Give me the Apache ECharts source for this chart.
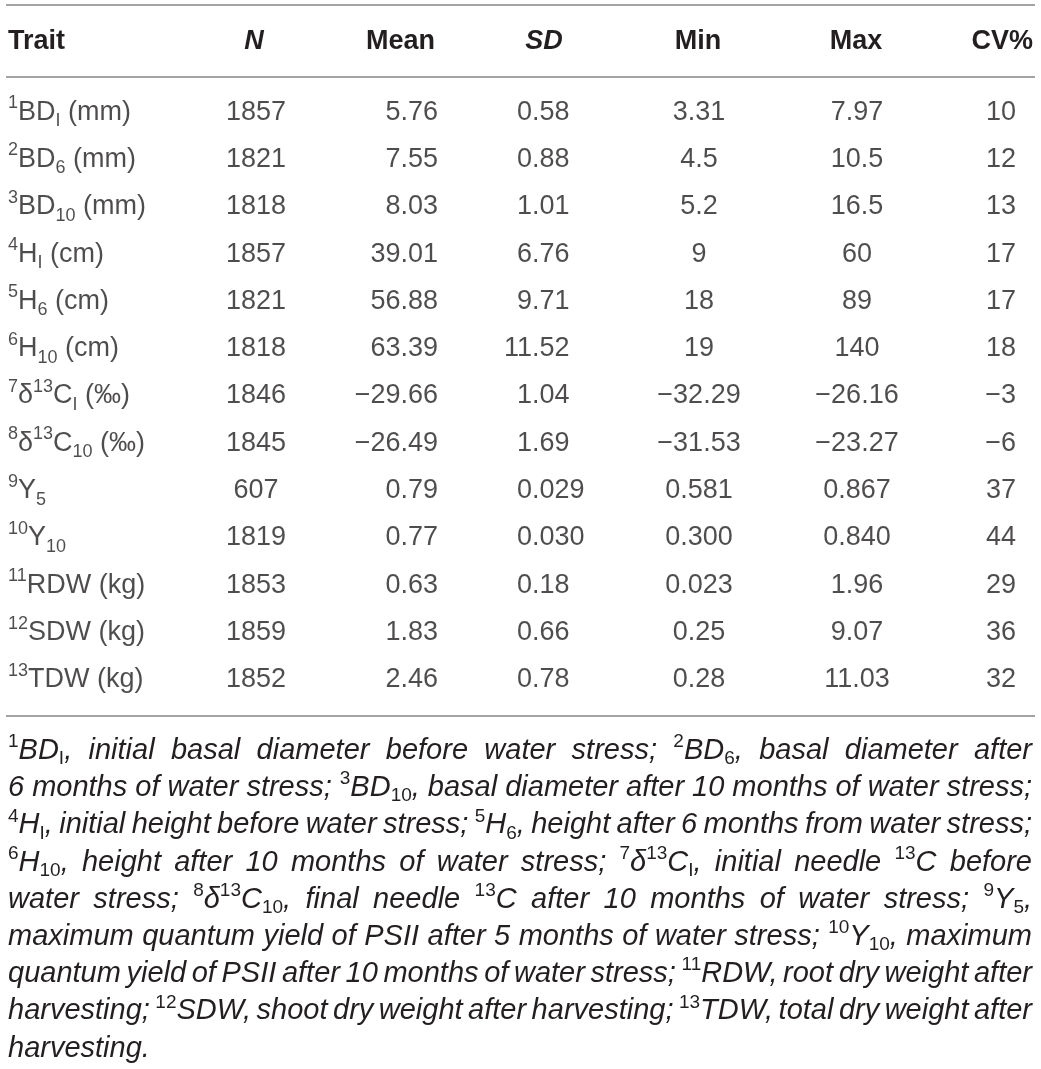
<!DOCTYPE html>
<html>
<head>
<meta charset="utf-8">
<title>Trait summary</title>
<script src="https://cdn.jsdelivr.net/npm/echarts@6/dist/echarts.min.js"></script>
<style>
html, body { margin: 0; padding: 0; background: #fff; }
#table { width: 1041px; height: 1069px; }
</style>
</head>
<body>
<div id="table"></div>
<script>
// 表格数据 (^{..} 上标, _{..} 下标)
var traits = ['^{1}BD_{I} (mm)', '^{2}BD_{6} (mm)', '^{3}BD_{10} (mm)', '^{4}H_{I} (cm)', '^{5}H_{6} (cm)',
    '^{6}H_{10} (cm)', '^{7}δ^{13}C_{I} (‰)', '^{8}δ^{13}C_{10} (‰)', '^{9}Y_{5}', '^{10}Y_{10}',
    '^{11}RDW (kg)', '^{12}SDW (kg)', '^{13}TDW (kg)'];
var nValues = [1857, 1821, 1818, 1857, 1821, 1818, 1846, 1845, 607, 1819, 1853, 1859, 1852];
var meanValues = ['5.76', '7.55', '8.03', '39.01', '56.88', '63.39', '-29.66', '-26.49', '0.79', '0.77', '0.63', '1.83', '2.46'];
var sdValues = ['0.58', '0.88', '1.01', '6.76', '9.71', '11.52', '1.04', '1.69', '0.029', '0.030', '0.18', '0.66', '0.78'];
var minValues = ['3.31', '4.5', '5.2', '9', '18', '19', '-32.29', '-31.53', '0.581', '0.300', '0.023', '0.25', '0.28'];
var maxValues = ['7.97', '10.5', '16.5', '60', '89', '140', '-26.16', '-23.27', '0.867', '0.840', '1.96', '9.07', '11.03'];
var cvValues = ['10', '12', '13', '17', '17', '18', '-3', '-6', '37', '44', '29', '36', '32'];
var headers = ['Trait', 'N', 'Mean', 'SD', 'Min', 'Max', 'CV%'];

var footnotes = [
    '^{1}BD_{I}, initial basal diameter before water stress; ^{2}BD_{6}, basal diameter after',
    '6 months of water stress; ^{3}BD_{10}, basal diameter after 10 months of water stress;',
    '^{4}H_{I}, initial height before water stress; ^{5}H_{6}, height after 6 months from water stress;',
    '^{6}H_{10}, height after 10 months of water stress; ^{7}δ^{13}C_{I}, initial needle ^{13}C before',
    'water stress; ^{8}δ^{13}C_{10}, final needle ^{13}C after 10 months of water stress; ^{9}Y_{5},',
    'maximum quantum yield of PSII after 5 months of water stress; ^{10}Y_{10}, maximum',
    'quantum yield of PSII after 10 months of water stress; ^{11}RDW, root dry weight after',
    'harvesting; ^{12}SDW, shoot dry weight after harvesting; ^{13}TDW, total dry weight after',
    'harvesting.'
];

var myChart = echarts.init(document.getElementById('table'));

var ink = '#231f20';
var ruleColor = '#a3a3a3';
var bodyFont = '"Liberation Sans", Arial, sans-serif';
var fontSize = 27;

// 列位置和对齐方式
var cols = {
    trait: { x: 8, align: 'left' },
    n: { x: 256, align: 'center' },
    mean: { x: 438, align: 'right' },
    sdInt: { x: 532, align: 'right' },
    sdFrac: { x: 532, align: 'left' },
    min: { x: 699, align: 'center' },
    max: { x: 857, align: 'center' },
    cv: { x: 1016, align: 'right' }
};
var headerLayout = [
    { x: 8, align: 'left' },
    { x: 254, align: 'center', italic: true },
    { x: 435, align: 'right' },
    { x: 544, align: 'center', italic: true },
    { x: 698, align: 'center' },
    { x: 856, align: 'center' },
    { x: 1033, align: 'right' }
];

function toRich(s) {
    return s.replace(/\^\{([^}]*)\}/g, '{sup|$1}').replace(/_\{([^}]*)\}/g, '{sub|$1}');
}
function fmt(v) {
    return String(v).replace('-', '\u2212');
}

var rich = {
    sup: { fontSize: 18, lineHeight: 22, verticalAlign: 'top', color: ink, fontFamily: bodyFont },
    sub: { fontSize: 18, lineHeight: 20, verticalAlign: 'bottom', color: ink, fontFamily: bodyFont }
};

function cellSeries(name, col, texts) {
    return {
        type: 'scatter',
        name: name,
        silent: true,
        symbolSize: 1,
        itemStyle: { color: 'rgba(0,0,0,0)' },
        data: texts.map(function (t, i) { return [col.x, i]; }),
        label: {
            show: true,
            position: 'inside',
            align: col.align,
            verticalAlign: 'middle',
            color: ink,
            fontFamily: bodyFont,
            fontSize: fontSize,
            lineHeight: 36,
            formatter: function (p) { return texts[p.dataIndex]; },
            rich: rich
        },
        emphasis: { disabled: true }
    };
}

var sdInt = sdValues.map(function (v) { return v.split('.')[0]; });
var sdFrac = sdValues.map(function (v) { return '.' + v.split('.')[1]; });

// 表头和横线
var graphics = [];
[5, 77, 716].forEach(function (y) {
    graphics.push({
        type: 'line', silent: true,
        shape: { x1: 6, y1: y, x2: 1035, y2: y },
        style: { stroke: ruleColor, lineWidth: 2 }
    });
});
headers.forEach(function (h, i) {
    var lay = headerLayout[i];
    graphics.push({
        type: 'text', silent: true, x: lay.x, y: 42,
        style: {
            text: h, fill: ink,
            font: (lay.italic ? 'italic ' : '') + 'bold ' + fontSize + 'px ' + bodyFont,
            align: lay.align, textAlign: lay.align,
            verticalAlign: 'middle', textVerticalAlign: 'middle'
        }
    });
});

// 脚注: 窄体斜体, 两端对齐
var ctx = document.createElement('canvas').getContext('2d');
function measure(text, font) {
    ctx.font = font;
    return ctx.measureText(text).width;
}
function parseWord(w) {
    var segs = [];
    var re = /\^\{([^}]*)\}|_\{([^}]*)\}|([^\^_]+)/g;
    var m;
    while ((m = re.exec(w))) {
        if (m[1] != null) segs.push({ text: m[1], type: 'sup' });
        else if (m[2] != null) segs.push({ text: m[2], type: 'sub' });
        else segs.push({ text: m[3], type: 'base' });
    }
    return segs;
}
var noteLeft = 8, noteRight = 1032, noteTop = 751, noteStep = 37.2;
var noteSize = 29;
function segFont(type) {
    if (type === 'base') return 'italic ' + noteSize + 'px ' + bodyFont;
    return Math.round(noteSize * 0.64) + 'px ' + bodyFont;
}
function wordWidth(segs) {
    return segs.reduce(function (s, g) { return s + measure(g.text, segFont(g.type)); }, 0);
}
var noteWords = footnotes.map(function (line) { return line.split(' ').map(parseWord); });
// 横向压缩, 让最宽的一行刚好放下 (词距约为正常的三分之一)
var widest = 0;
noteWords.forEach(function (words) {
    var w = words.reduce(function (s, segs) { return s + wordWidth(segs); }, 0) +
        (words.length - 1) * measure(' ', segFont('base')) * 0.35;
    widest = Math.max(widest, w);
});
var squeeze = Math.max(0.7, Math.min(1, (noteRight - noteLeft) / widest));

noteWords.forEach(function (words, li) {
    var widths = words.map(function (segs) { return wordWidth(segs) * squeeze; });
    var total = widths.reduce(function (a, b) { return a + b; }, 0);
    var last = li === noteWords.length - 1;
    var gap = last ? measure(' ', segFont('base')) * squeeze : (noteRight - noteLeft - total) / (words.length - 1);
    var x = noteLeft;
    var yc = noteTop + noteStep * li;
    words.forEach(function (segs) {
        segs.forEach(function (g) {
            var f = segFont(g.type);
            var dy = g.type === 'sup' ? -9 : (g.type === 'sub' ? 8 : 0);
            graphics.push({
                type: 'text', silent: true, x: x, y: yc + dy, scaleX: squeeze,
                style: {
                    text: g.text, fill: ink, font: f,
                    align: 'left', textAlign: 'left',
                    verticalAlign: 'middle', textVerticalAlign: 'middle'
                }
            });
            x += measure(g.text, f) * squeeze;
        });
        x += gap;
    });
});

var option = {
    backgroundColor: '#fff',
    animation: false,
    grid: { left: 0, right: 0, top: 88.5, height: 615 },
    xAxis: { type: 'value', min: 0, max: 1041, show: false },
    yAxis: { type: 'category', inverse: true, data: traits, show: false },
    series: [
        cellSeries('Trait', cols.trait, traits.map(toRich)),
        cellSeries('N', cols.n, nValues.map(fmt)),
        cellSeries('Mean', cols.mean, meanValues.map(fmt)),
        cellSeries('SD', cols.sdInt, sdInt),
        cellSeries('SD frac', cols.sdFrac, sdFrac),
        cellSeries('Min', cols.min, minValues.map(fmt)),
        cellSeries('Max', cols.max, maxValues.map(fmt)),
        cellSeries('CV%', cols.cv, cvValues.map(fmt))
    ],
    graphic: graphics
};

myChart.setOption(option);
</script>
</body>
</html>
